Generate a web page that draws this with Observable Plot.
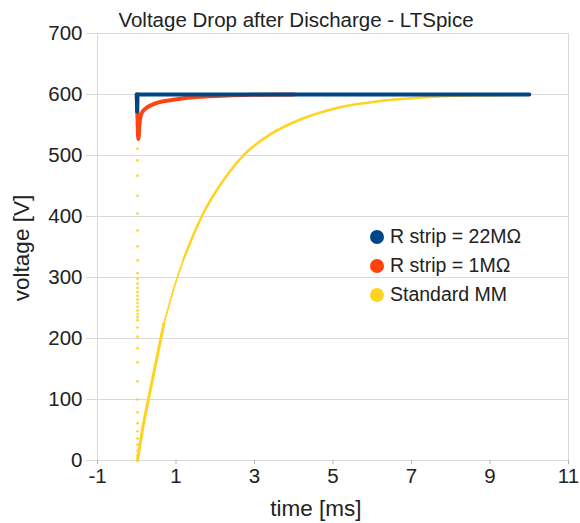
<!DOCTYPE html>
<html><head><meta charset="utf-8">
<script src="https://cdn.jsdelivr.net/npm/d3@7"></script>
<script src="https://cdn.jsdelivr.net/npm/@observablehq/plot@0.6"></script>
<style>
body{margin:0;background:#fff;font-family:"Liberation Sans",Arial,sans-serif;color:#222;}
#wrap{position:relative;width:580px;height:523px;overflow:hidden;}
.ov{position:absolute;white-space:nowrap;line-height:1;}
#title{left:0;width:592px;top:10px;text-align:center;font-size:20.5px;}
#xlab{left:216px;width:200px;top:498px;text-align:center;font-size:22.5px;}
#ylab{left:22px;top:248px;font-size:22.5px;transform:translate(-50%,-50%) rotate(-90deg);}
.leg{left:370px;font-size:19.5px;display:flex;align-items:center;}
.leg span.c{display:inline-block;width:14px;height:14px;border-radius:50%;margin-right:6px;}
</style></head><body><div id="wrap"></div>
<script>
const title = "Voltage Drop after Discharge - LTSpice";
const xLabel = "time [ms]";
const yLabel = "voltage [V]";
const xTicks = [-1, 1, 3, 5, 7, 9, 11];
const yTicks = [0, 100, 200, 300, 400, 500, 600, 700];
const seriesNames = ["R strip = 22M\u03A9", "R strip = 1M\u03A9", "Standard MM"];
const seriesColors = ["#004586", "#ff420e", "#ffd320"];

// R strip = 22MΩ
const strip22Time = [0, 0.01, 0.02, 10];
const strip22Volt = [600, 572, 600, 600];

// R strip = 1MΩ
const strip1Time = [0, 0.02, 0.04, 0.07, 0.1, 0.15, 0.25, 0.35, 0.6, 0.9, 1.37, 1.8, 2.3, 3.0, 4.0];
const strip1Volt = [600, 560, 527, 552, 565, 572, 578, 582, 588, 591, 595, 597, 598.5, 599.5, 600];

// Standard MM: sparse samples of the drop near t = 0
const mmDropTime = 0.02;
const mmDropVolt = [511, 492, 467, 434, 405, 377, 351, 328, 307, 298, 290, 283, 276, 270, 264, 258, 252, 246, 240, 235, 230, 218, 203, 184, 161, 130, 100, 79, 61, 48, 36, 26, 16, 8, 3];

// Standard MM: recovery
const mmTime = [0.02, 0.15, 0.3, 0.5, 0.69, 0.95, 1.2, 1.45, 1.71, 2.13, 2.73, 3.41, 4.17, 5.1, 6.3, 7.57, 8.8, 10.0];
const mmVolt = [0, 52, 101, 164, 224, 283, 331, 371, 407, 452, 501, 535, 559, 578, 590, 596.5, 598.5, 599.5];

const strip22 = strip22Time.map((t, i) => ({t, v: strip22Volt[i]}));
const strip1 = strip1Time.map((t, i) => ({t, v: strip1Volt[i]}));
const mmDrop = mmDropVolt.map(v => ({t: mmDropTime, v}));
const mm = mmTime.map((t, i) => ({t, v: mmVolt[i]}));
const mmA = mm.filter(d => d.t <= 0.69);
const mmB = mm.filter(d => d.t >= 0.69 && d.t <= 1.2);
const mmC = mm.filter(d => d.t >= 1.2);

const grid = "#d9d9d9";
const axisGray = "#b3b3b3";

const chart = Plot.plot({
  width: 580,
  height: 523,
  marginLeft: 97,
  marginRight: 12,
  marginTop: 33,
  marginBottom: 63,
  style: {fontFamily: "'Liberation Sans', Arial, sans-serif", fontSize: "20.5px", color: "#222", background: "#fff"},
  x: {domain: [-1, 11], ticks: xTicks},
  y: {domain: [0, 700], ticks: yTicks},
  marks: [
    Plot.ruleY(yTicks.slice(1, -1), {stroke: grid, strokeWidth: 1}),
    Plot.frame({stroke: grid, strokeWidth: 1}),
    Plot.axisX({ticks: xTicks, tickSize: 4, tickPadding: 4, stroke: axisGray, fill: "#222", label: null, tickFormat: d => d < 0 ? "-" + Math.abs(d) : String(d)}),
    Plot.axisY({ticks: yTicks, tickSize: 11, tickPadding: 4, stroke: grid, fill: "#222", label: null}),
    Plot.dot(mmDrop, {x: "t", y: "v", r: 1.3, fill: seriesColors[2], stroke: null}),
    Plot.line(mmA, {x: "t", y: "v", stroke: seriesColors[2], strokeWidth: 3, curve: "monotone-x"}),
    Plot.line(mmB, {x: "t", y: "v", stroke: seriesColors[2], strokeWidth: 2, strokeDasharray: "1.6,1.8", curve: "monotone-x"}),
    Plot.line(mmC, {x: "t", y: "v", stroke: seriesColors[2], strokeWidth: 2.5, curve: "monotone-x"}),
    Plot.line(strip1, {x: "t", y: "v", stroke: seriesColors[1], strokeWidth: 4, curve: "monotone-x", strokeLinecap: "round", strokeLinejoin: "round"}),
    Plot.line(strip22, {x: "t", y: "v", stroke: seriesColors[0], strokeWidth: 4, strokeLinecap: "round", strokeLinejoin: "round"})
  ]
});

const wrap = document.getElementById("wrap");
wrap.appendChild(chart);

function addText(id, text) {
  const d = document.createElement("div");
  d.className = "ov";
  d.id = id;
  d.textContent = text;
  wrap.appendChild(d);
  return d;
}
addText("title", title);
addText("xlab", xLabel);
addText("ylab", yLabel);
const legTops = [227, 256, 285];
seriesNames.forEach((name, i) => {
  const d = document.createElement("div");
  d.className = "ov leg";
  d.style.top = legTops[i] + "px";
  const c = document.createElement("span");
  c.className = "c";
  c.style.background = seriesColors[i];
  d.appendChild(c);
  d.appendChild(document.createTextNode(name));
  wrap.appendChild(d);
});
</script>
</body></html>
